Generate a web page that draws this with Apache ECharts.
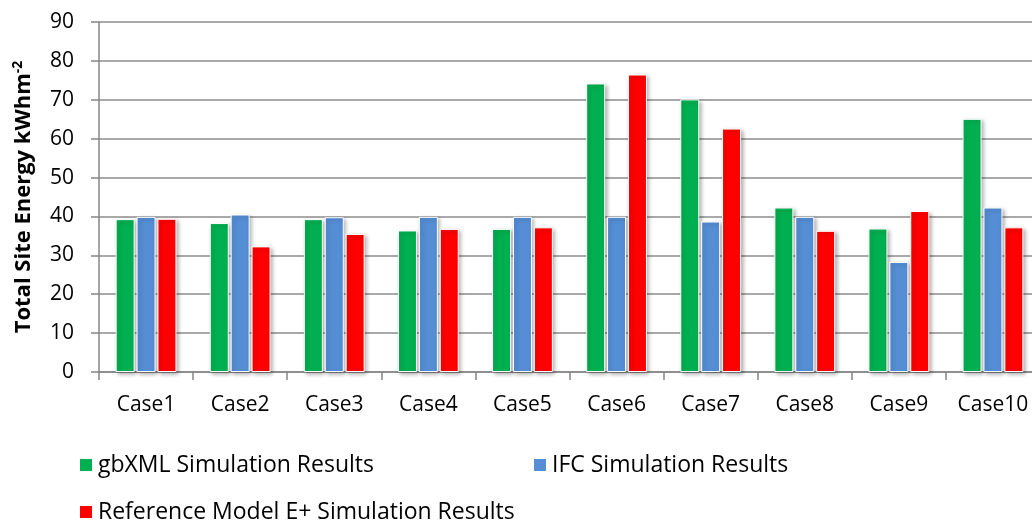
<!DOCTYPE html>
<html>
<head>
<meta charset="utf-8">
<script src="https://cdn.jsdelivr.net/npm/echarts@6/dist/echarts.min.js"></script>
<style>html,body{margin:0;padding:0;background:#fff}#c{width:1032px;height:527px}</style>
</head>
<body>
<div id="c"></div>
<script>
const categories = ['Case1','Case2','Case3','Case4','Case5','Case6','Case7','Case8','Case9','Case10'];
const gbxml = [39.3, 38.3, 39.3, 36.4, 36.8, 74.2, 70.1, 42.3, 36.9, 65.1];
const ifc = [39.9, 40.5, 39.8, 39.9, 39.9, 39.9, 38.7, 39.9, 28.3, 42.3];
const reference = [39.4, 32.3, 35.5, 36.8, 37.2, 76.5, 62.6, 36.3, 41.4, 37.2];
const seriesNames = ['gbXML Simulation Results','IFC Simulation Results','Reference Model E+ Simulation Results'];
const colors = ['#00B050','#558ED5','#FF0000'];
const FONT = '"Open Sans"';

const chart = echarts.init(document.getElementById('c'));
function bar(name, data, color){
  return {
    name, type:'bar', data, barWidth:19, barGap:'10%',
    itemStyle:{color, borderColor:'#fff', borderWidth:1,
      shadowColor:'rgba(0,0,0,0.3)', shadowBlur:4, shadowOffsetX:2, shadowOffsetY:2},
    emphasis:{disabled:true}
  };
}
function legend(i, left, top){
  return {
    data:[{name:seriesNames[i], icon:'rect'}], left, top, padding:0, itemWidth:14, itemHeight:14,
    textStyle:{fontFamily:FONT, fontSize:23, color:'#000', lineHeight:24}, selectedMode:false
  };
}
chart.setOption({
  animation:false,
  color:colors,
  grid:{left:99, top:22, width:941, bottom:155, containLabel:false, outerBoundsMode:'none'},
  legend:[legend(0,78,453), legend(1,532,453), legend(2,78,500)],
  xAxis:{
    type:'category', data:categories,
    axisLine:{lineStyle:{color:'#868686', width:1.5}},
    axisTick:{show:true, length:8, alignWithLabel:false, lineStyle:{color:'#868686', width:1.5}},
    axisLabel:{fontFamily:FONT, fontSize:21, color:'#000', margin:23, interval:0}
  },
  yAxis:{
    type:'value', min:0, max:90, interval:10,
    name:'{a|Total Site Energy kWhm}{b|-2}', nameLocation:'middle', nameGap:62, nameRotate:90,
    nameTextStyle:{
      rich:{
        a:{fontFamily:FONT, fontSize:22, fontWeight:'bold', color:'#000', lineHeight:26},
        b:{fontFamily:FONT, fontSize:14, fontWeight:'bold', color:'#000', lineHeight:26, verticalAlign:'top'}
      }
    },
    axisLine:{show:true, lineStyle:{color:'#868686', width:1.5}},
    axisTick:{show:true, length:8, lineStyle:{color:'#868686', width:1.5}},
    axisLabel:{fontFamily:FONT, fontSize:21, color:'#000', margin:25},
    splitLine:{lineStyle:{color:'#8c8c8c', width:1.5}}
  },
  series:[bar(seriesNames[0], gbxml, colors[0]), bar(seriesNames[1], ifc, colors[1]), bar(seriesNames[2], reference, colors[2])]
});
</script>
</body>
</html>
